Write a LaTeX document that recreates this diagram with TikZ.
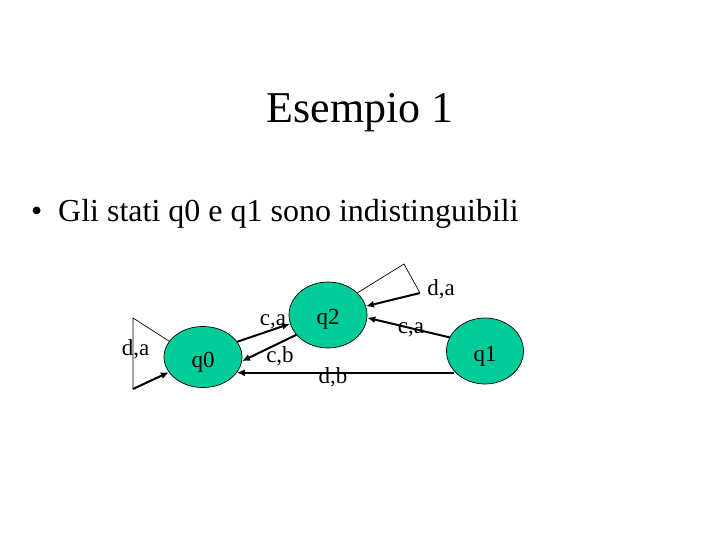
\documentclass[tikz,border=0pt]{standalone}
\usepackage{fontspec}
\setmainfont{Liberation Serif}
\usetikzlibrary{shapes.geometric,arrows.meta}
\definecolor{stategreen}{RGB}{0,204,153}
\tikzset{
  state/.style={ellipse,draw=black,line width=0.7pt,fill=stategreen,minimum width=78pt,minimum height=64pt,inner sep=0pt,font=\fontsize{23}{26}\selectfont},
  lbl/.style={anchor=base,inner sep=0pt,font=\fontsize{23}{26}\selectfont},
  trans/.style={line width=2pt,-{Latex[length=8pt,width=7pt]}},
  loopline/.style={line width=0.7pt}
}
\begin{document}
\begin{tikzpicture}[x=1pt,y=-1pt]
\useasboundingbox (0,0) rectangle (720,540);
\node[anchor=base,inner sep=0pt,font=\fontsize{44}{50}\selectfont] (title) at (360,123) {Esempio 1};
\node[anchor=base west,inner sep=0pt,font=\fontsize{32}{38}\selectfont] (bul) at (31,222) {•};
\node[anchor=base west,inner sep=0pt,font=\fontsize{32}{38}\selectfont] (txt) at (58,222) {Gli stati q0 e q1 sono indistinguibili};

\node[state,minimum width=78pt,minimum height=61pt] (q0) at (203,357) {};
\node[state,minimum width=78pt,minimum height=66pt] (q2) at (328,315) {};
\node[state,minimum width=77pt,minimum height=66pt] (q1) at (485,351) {};
\node[lbl] (q0t) at (203,367) {q0};
\node[lbl] (q2t) at (328,324) {q2};
\node[lbl] (q1t) at (485,361) {q1};

% self loop on q0
\coordinate (l0a) at (133,318);
\coordinate (l0b) at (133,389);
\draw[loopline] (q0.155) -- (l0a) -- (l0b);
\draw[trans] (l0b) -- (q0.204);
\node[lbl] (da0) at (135.5,355) {d,a};

% self loop on q2
\coordinate (l2a) at (404,264);
\coordinate (l2b) at (420,293);
\draw[loopline] (q2.37) -- (l2a) -- (l2b);
\draw[trans] (l2b) -- (q2.13);
\node[lbl] (da2) at (441,295) {d,a};

% transitions
\draw[trans] (q0.24) -- (q2.193);
\node[lbl] (ca0) at (273,325) {c,a};
\draw[trans] (q2.212) -- (q0.354);
\node[lbl] (cb) at (280,362) {c,b};
\node[lbl] (ca1) at (411,333) {c,a};
\draw[trans] (q1.159) -- (q2.356);
\draw[trans] (q0.335 -| q1.213) -- (q0.335);
\node[lbl] (db) at (333,383) {d,b};
\end{tikzpicture}
\end{document}
